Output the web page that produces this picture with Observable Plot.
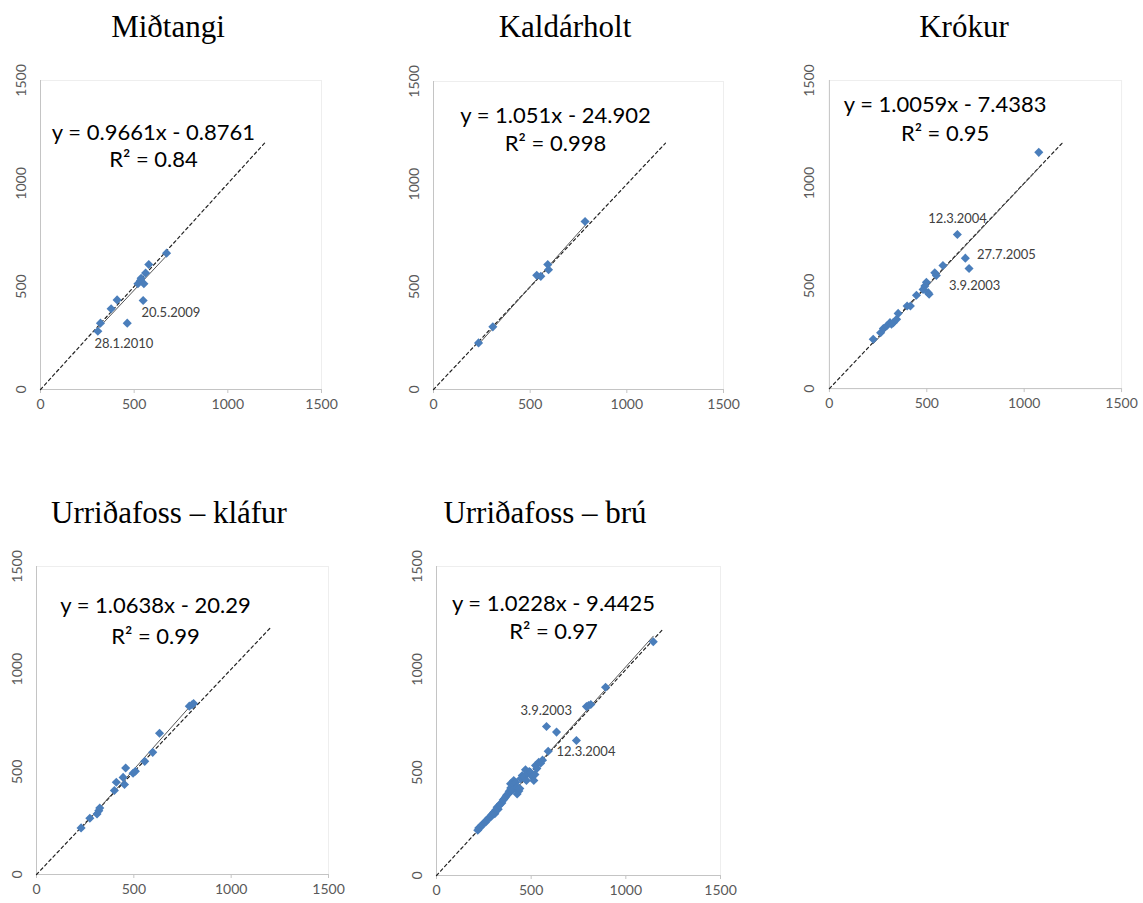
<!DOCTYPE html>
<html>
<head>
<meta charset="utf-8">
<script src="https://cdn.jsdelivr.net/npm/d3@7"></script>
<script src="https://cdn.jsdelivr.net/npm/@observablehq/plot@0.6"></script>
<style>
  html, body { margin: 0; padding: 0; background: #fff; }
  #root { position: relative; width: 1143px; height: 903px; background: #fff; overflow: hidden; }
  .title { position: absolute; font-family: "Liberation Serif", "Times New Roman", serif; font-size: 31px; line-height: 31px; color: #000; white-space: nowrap; transform: translateX(-50%); }
  .panel { position: absolute; }
</style>
</head>
<body>
<div id="root"></div>
<script>
// ---------- DATA ----------
const titles = ["Miðtangi", "Kaldárholt", "Krókur", "Urriðafoss – kláfur", "Urriðafoss – brú"];

const midtangiX = [306, 320, 377, 409, 463, 520, 534, 537, 552, 548, 561, 578, 673];
const midtangiY = [283, 322, 392, 435, 322, 513, 529, 540, 513, 432, 565, 607, 662];

const kaldarholtX = [233, 307, 534, 555, 591, 595, 784];
const kaldarholtY = [227, 305, 556, 551, 609, 583, 818];

const krokurX = [225, 263, 277, 294, 311, 319, 328, 345, 353, 399, 416, 447, 481, 490, 498, 507, 512, 541, 549, 583, 657, 698, 717, 1075];
const krokurY = [240, 272, 292, 305, 321, 313, 321, 337, 366, 402, 402, 454, 483, 499, 518, 467, 459, 564, 551, 599, 750, 635, 585, 1150];

const klafurX = [229, 274, 311, 320, 325, 400, 410, 445, 452, 458, 496, 508, 556, 597, 632, 785, 799, 807];
const klafurY = [227, 274, 295, 311, 324, 409, 449, 473, 438, 519, 493, 503, 551, 595, 688, 820, 827, 833];

const bruX = [218, 223, 232, 240, 250, 259, 265, 274, 285, 290, 297, 303, 308, 313, 320, 326, 331, 338, 345, 352, 358, 364, 370, 378, 383, 387, 392, 391, 401, 408, 410, 418, 426, 426, 435, 440, 445, 453, 462, 470, 475, 480, 490, 496, 505, 514, 520, 523, 530, 540, 550, 560, 590, 581, 634, 739, 792, 803, 815, 893, 1145];
const bruY = [220, 230, 234, 245, 255, 259, 268, 278, 283, 293, 300, 307, 300, 318, 331, 322, 340, 348, 352, 366, 372, 380, 389, 396, 405, 412, 425, 445, 415, 461, 440, 452, 428, 396, 410, 422, 470, 485, 478, 513, 461, 495, 505, 501, 480, 461, 490, 534, 520, 550, 545, 560, 603, 723, 696, 655, 820, 825, 830, 914, 1135];

const slopes = [0.9661, 1.051, 1.0059, 1.0638, 1.0228];
const intercepts = [-0.8761, -24.902, -7.4383, -20.29, -9.4425];
const equationTexts = ["y = 0.9661x - 0.8761", "y = 1.051x - 24.902", "y = 1.0059x - 7.4383", "y = 1.0638x - 20.29", "y = 1.0228x - 9.4425"];
const r2Texts = ["R² = 0.84", "R² = 0.998", "R² = 0.95", "R² = 0.99", "R² = 0.97"];
const eqAnchorX = [603, 631, 594, 611, 618];
const eqAnchorY = [1247, 1334, 1379, 1310, 1320];
const r2AnchorY = [1112, 1198, 1238, 1159, 1180];

const pointLabelText = [["20.5.2009", "28.1.2010"], [], ["12.3.2004", "27.7.2005", "3.9.2003"], [], ["3.9.2003", "12.3.2004"]];
const pointLabelX = [[539, 288], [], [507, 758, 614], [], [444, 634]];
const pointLabelY = [[374, 223], [], [825, 650, 500], [], [801, 602]];

const tickValues = [0, 500, 1000, 1500];

// ---------- LAYOUT ----------
const seriesX = [midtangiX, kaldarholtX, krokurX, klafurX, bruX];
const seriesY = [midtangiY, kaldarholtY, krokurY, klafurY, bruY];
// plot-frame pixel boxes: [left, right, top, bottom]
const frames = [[40, 321, 80, 389], [433, 723, 81, 389], [829, 1122, 80, 389], [36, 328, 566, 874], [436, 720, 566, 875]];
const titlePos = [[168, 11], [565, 11], [964, 11], [169, 497], [545, 497]];
const M = {left: 36, right: 22, top: 10, bottom: 32};

const root = document.getElementById("root");

titles.forEach((t, i) => {
  const d = document.createElement("div");
  d.className = "title";
  d.textContent = t;
  d.style.left = titlePos[i][0] + "px";
  d.style.top = titlePos[i][1] + "px";
  root.appendChild(d);
});

for (let i = 0; i < 5; i++) {
  const [fl, fr, ft, fb] = frames[i];
  const pts = seriesX[i].map((x, j) => ({x, y: seriesY[i][j]}));
  const xmin = d3.min(seriesX[i]), xmax = d3.max(seriesX[i]);
  const reg = [xmin, xmax].map(x => ({x, y: slopes[i] * x + intercepts[i]}));
  const labels = pointLabelText[i].map((t, j) => ({t, x: pointLabelX[i][j], y: pointLabelY[i][j]}));
  const plot = Plot.plot({
    width: M.left + (fr - fl) + M.right,
    height: M.top + (fb - ft) + M.bottom,
    marginLeft: M.left, marginRight: M.right, marginTop: M.top, marginBottom: M.bottom,
    x: {domain: [0, 1500]},
    y: {domain: [0, 1500]},
    style: {fontFamily: "Lato, 'Open Sans', sans-serif", fontSize: "14px", color: "#595959", background: "transparent", overflow: "visible"},
    marks: [
      Plot.frame({stroke: "#eeeeee"}),
      Plot.ruleX([0], {stroke: "#c4c4c4"}),
      Plot.ruleY([0], {stroke: "#c4c4c4"}),
      Plot.axisX({ticks: tickValues, tickFormat: d => String(d), tickSize: 4, tickPadding: 6, stroke: "#c4c4c4", fill: "#595959", fontSize: 14, label: null}),
      Plot.axisY({ticks: tickValues, tickFormat: d => String(d), tickSize: 0, tickPadding: 15, tickRotate: -90, fill: "#595959", fontSize: 14, label: null}),
      Plot.line([{x: 0, y: 0}, {x: 1200, y: 1200}], {x: "x", y: "y", stroke: "#222", strokeWidth: 1.2, strokeDasharray: "3,3"}),
      Plot.line(reg, {x: "x", y: "y", stroke: "#555", strokeWidth: 1}),
      Plot.dot(pts, {x: "x", y: "y", symbol: "diamond2", r: 4.1, fill: "#4a7ebb", stroke: "none"}),
      Plot.text(labels, {x: "x", y: "y", text: "t", textAnchor: "start", fontSize: 13, fill: "#404040"}),
      Plot.text([equationTexts[i]], {x: eqAnchorX[i], y: eqAnchorY[i], text: d => d, fontSize: 22, fill: "#000"}),
      Plot.text([r2Texts[i]], {x: eqAnchorX[i], y: r2AnchorY[i], text: d => d, fontSize: 22, fill: "#000"})
    ]
  });
  const wrap = document.createElement("div");
  wrap.className = "panel";
  wrap.style.left = (fl - M.left) + "px";
  wrap.style.top = (ft - M.top) + "px";
  wrap.appendChild(plot);
  root.appendChild(wrap);
}
</script>
</body>
</html>
